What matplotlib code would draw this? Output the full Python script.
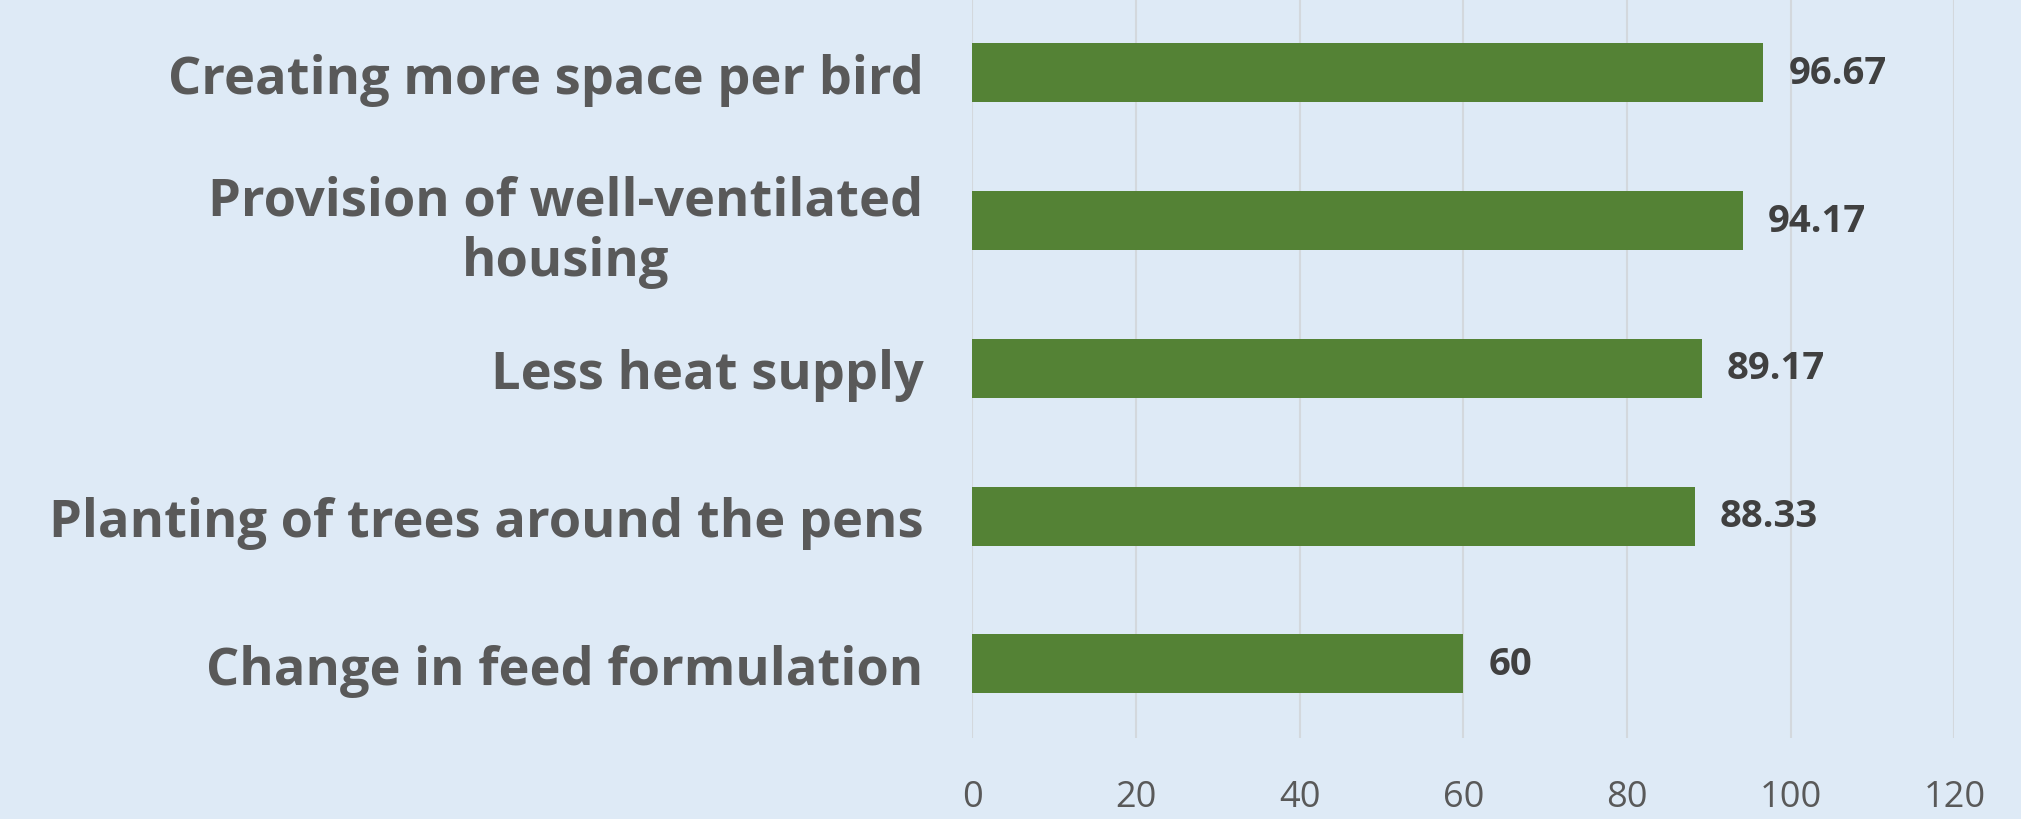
import matplotlib.pyplot as plt

# mitigation measures and the share of farmers adopting each (%)
measures = [
    "Creating more space per bird",
    "Provision of well-ventilated\nhousing",
    "Less heat supply",
    "Planting of trees around the pens",
    "Change in feed formulation",
]
adoption = [96.67, 94.17, 89.17, 88.33, 60]
x_ticks = [0, 20, 40, 60, 80, 100, 120]

bg = "#DEEAF6"
bar_color = "#548235"

fig = plt.figure(figsize=(20.21, 8.2), dpi=100, facecolor=bg)
ax = fig.add_axes([0.481, 0.099, 0.486, 0.901], facecolor=bg)

bars = ax.barh(range(len(measures)), adoption, height=0.4, color=bar_color, zorder=3)
ax.bar_label(bars, fmt="%g", padding=18, fontsize=27.5, fontweight="bold",
             color="#404040", family="Open Sans")

ax.set_xlim(0, 120)
ax.set_ylim(-0.5, len(measures) - 0.5)
ax.invert_yaxis()
ax.set_xticks(x_ticks)
ax.set_yticks(range(len(measures)))
ax.set_yticklabels(measures)
ax.grid(axis="x", color="#D3D8DD", linewidth=1.5, zorder=0)
ax.tick_params(length=0)
ax.tick_params(axis="x", pad=30, labelsize=26, labelcolor="#595959")
ax.tick_params(axis="y", pad=35, labelsize=37.7, labelcolor="#595959")
for lab in ax.get_xticklabels():
    lab.set_family("Open Sans")
for lab in ax.get_yticklabels():
    lab.set_family("Open Sans")
    lab.set_fontweight("bold")
    lab.set_multialignment("center")
for s in ax.spines.values():
    s.set_visible(False)

fig.savefig("out.png", dpi=100, facecolor=bg)
